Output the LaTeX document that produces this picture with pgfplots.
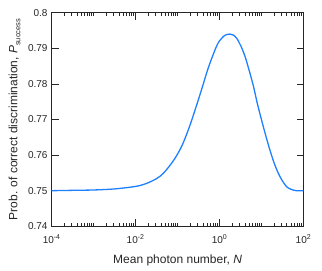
\documentclass[border=0pt]{standalone}
\usepackage{pgfplots}
\pgfplotsset{compat=1.18}
\usepackage{fontspec}
\setmainfont{Liberation Sans}
\definecolor{axgray}{RGB}{38,38,38}
\definecolor{curveblue}{RGB}{30,128,255}
\begin{document}
\begin{tikzpicture}
\begin{axis}[
  scale only axis,
  width=251.8pt, height=213.6pt,
  xmode=log,
  xmin=1e-4, xmax=1e2,
  ymin=0.74, ymax=0.8,
  xtick={1e-4,1e-2,1,1e2},
  xticklabels={10\textsuperscript{-4},10\textsuperscript{-2},10\textsuperscript{0},10\textsuperscript{2}},
  minor xtick={2e-4,3e-4,4e-4,5e-4,6e-4,7e-4,8e-4,9e-4,1e-3,2e-3,3e-3,4e-3,5e-3,6e-3,7e-3,8e-3,9e-3,
    2e-2,3e-2,4e-2,5e-2,6e-2,7e-2,8e-2,9e-2,1e-1,2e-1,3e-1,4e-1,5e-1,6e-1,7e-1,8e-1,9e-1,
    2,3,4,5,6,7,8,9,10,20,30,40,50,60,70,80,90},
  ytick={0.74,0.75,0.76,0.77,0.78,0.79,0.8},
  yticklabels={0.74,0.75,0.76,0.77,0.78,0.79,0.8},
  tick align=inside,
  xtick pos=both, ytick pos=both,
  major tick length=7pt, minor tick length=3.5pt,
  every tick/.style={axgray, line width=0.6pt},
  axis line style={axgray, line width=0.6pt},
  tick label style={font=\fontsize{10}{11}\selectfont, text=axgray},
  xticklabel style={anchor=base, yshift=-17pt},
  yticklabel style={xshift=-0.7pt},
  label style={font=\fontsize{12}{13}\selectfont, text=axgray},
  xlabel={Mean photon number, \textit{N}},
  ylabel={Prob. of correct discrimination, \textit{P}\raisebox{-3pt}{\fontsize{7.5}{8}\selectfont success}},
  xlabel style={at={(axis description cs:0.5,-0.1765)}, anchor=base},
  ylabel style={at={(axis description cs:-0.1366,0.5)}, anchor=base},
  clip=false,
]
\addplot[curveblue, line width=1.3pt, smooth] coordinates {
(1e-4,0.7500) (3.162e-4,0.7501) (1e-3,0.7502) (3.162e-3,0.7505)
(1e-2,0.7512) (0.01778,0.7520) (0.03162,0.7534) (0.0468,0.7550)
(0.0813,0.7586) (0.1288,0.7628) (0.2042,0.7689) (0.3548,0.7776)
(0.5495,0.7848) (0.871,0.7909) (1.122,0.7928) (1.365,0.7937) (1.778,0.7940)
(2.138,0.7937) (2.570,0.7928) (3.236,0.7906) (4.074,0.7876) (5.129,0.7836)
(6.457,0.7792) (7.943,0.7745) (10,0.7699) (12.59,0.7655) (15.85,0.7614)
(19.95,0.7578) (25.12,0.7549) (31.62,0.7527) (39.81,0.7511) (50.12,0.7504)
(67.61,0.7500) (100,0.7500)
};
\coordinate (sw) at (rel axis cs:0,0);
\coordinate (ne) at (rel axis cs:1,1);
\end{axis}
\pgfresetboundingbox
\path[use as bounding box] ([xshift=-51.7pt,yshift=-44.7pt]sw) rectangle ([xshift=18.5pt,yshift=12.7pt]ne);
\end{tikzpicture}
\end{document}
